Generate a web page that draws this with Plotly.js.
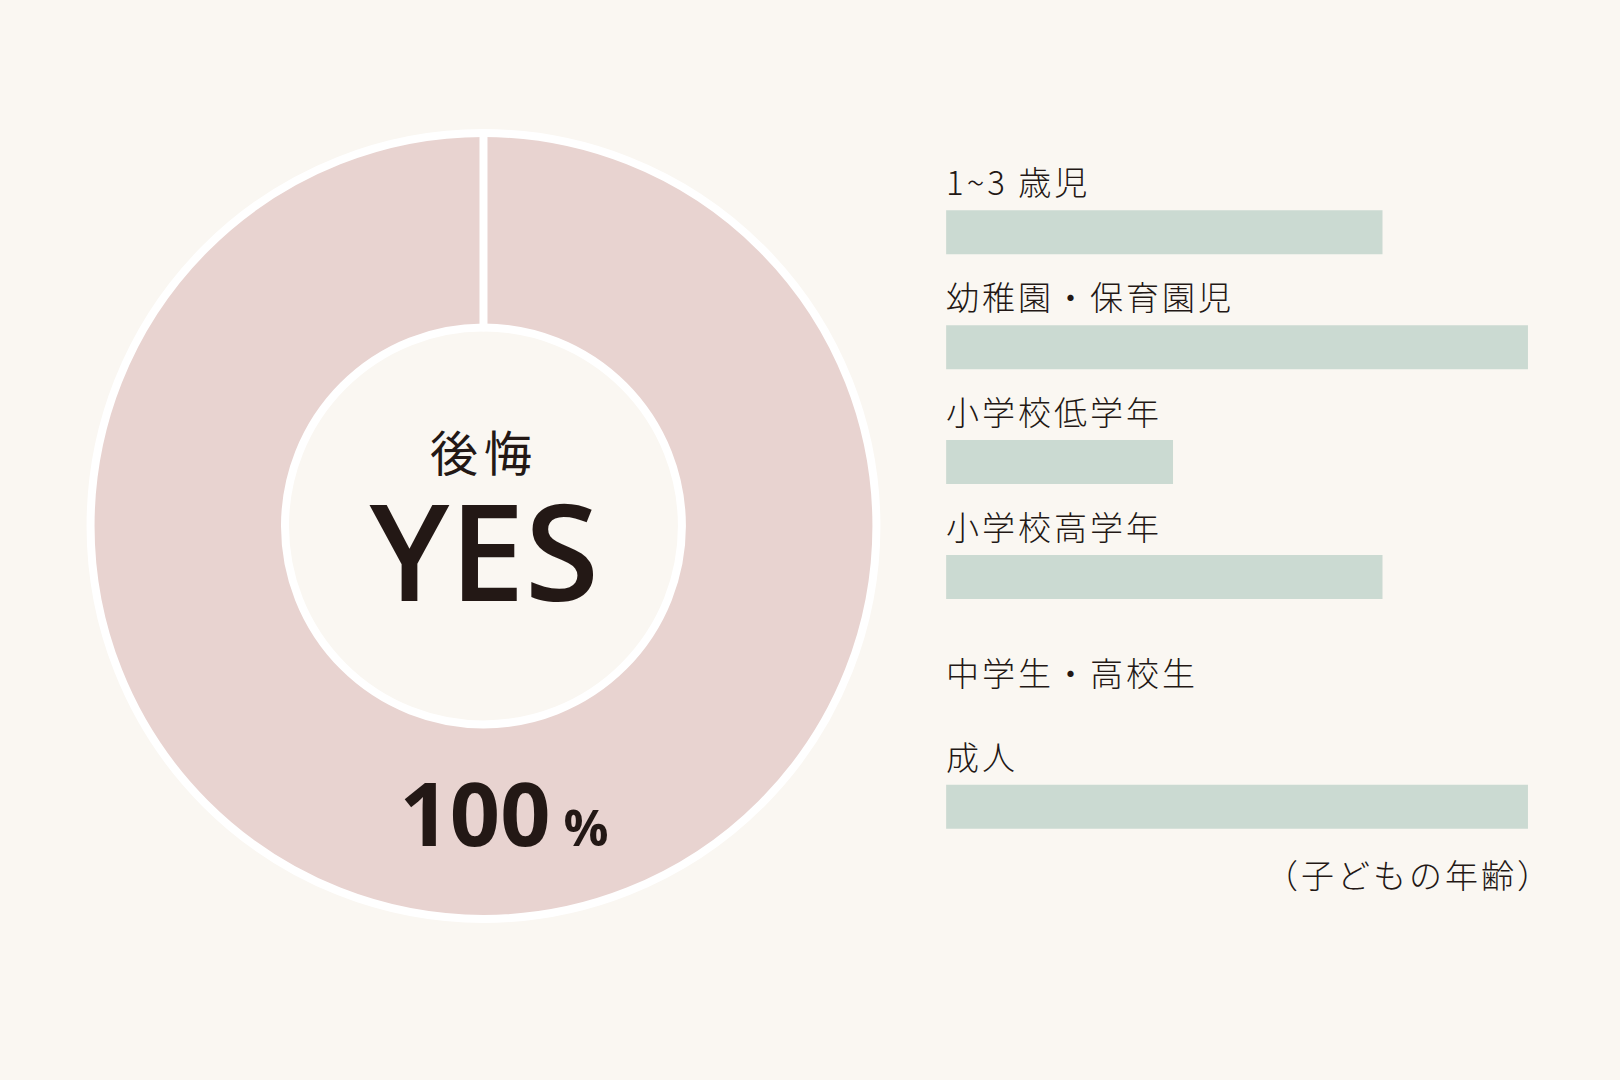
<!DOCTYPE html>
<html>
<head>
<meta charset="utf-8">
<script src="https://cdn.plot.ly/plotly-3.0.1.min.js"></script>
<style>
  html, body { margin: 0; padding: 0; background: #faf7f2; }
  /* the print version spaces its Japanese type a little */
  .annotation-text { letter-spacing: 3px; }
  .annotation[data-index="7"] .annotation-text { letter-spacing: 6px; }
  .annotation[data-index="8"] .annotation-text,
  .annotation[data-index="9"] .annotation-text { letter-spacing: 0; }
</style>
</head>
<body>
<div id="chart" style="width:1620px;height:1080px;"></div>
<script>
// donut: answer to "後悔" (regret)
var answerLabels = ["YES", "NO"];
var answerValues = [100, 0];
var centerTitle = "後悔";

// bars: child's age groups
var ageGroups = ["1~3 歳児", "幼稚園・保育園児", "小学校低学年", "小学校高学年", "中学生・高校生", "成人"];
var ageValues = [75, 100, 39, 75, 0, 100];
var ageNote = "（子どもの年齢）";

var INK = "#231815";
var CJK = "'Noto Sans CJK JP', 'Noto Sans', sans-serif";
var LATIN = "'Open Sans', 'Noto Sans', sans-serif";

var pieTrace = {
    type: "pie",
    labels: answerLabels,
    values: answerValues,
    sort: false,
    direction: "clockwise",
    rotation: 0,
    hole: 0.505,
    domain: {x: [0.0559, 0.5410], y: [0.1491, 0.8769]},
    marker: {
        colors: ["#e8d3d0", "#e8d3d0"],
        line: {color: "#ffffff", width: 8}
    },
    textinfo: "none",
    hoverinfo: "none",
    showlegend: false
};

var barTrace = {
    type: "bar",
    orientation: "h",
    x: ageValues,
    y: ageGroups,
    width: 0.383,
    marker: {color: "#cbdad2"},
    hoverinfo: "none",
    showlegend: false
};

var annotations = ageGroups.map(function(g, i) {
    return {
        x: 0, y: g, xref: "x", yref: "y",
        text: g,
        xanchor: "left", yanchor: "middle",
        xshift: -2,
        yshift: ageValues[i] ? 51 : 20,
        showarrow: false,
        font: {family: CJK, size: 33, color: INK, weight: 300}
    };
});

annotations.push({
    x: 100, y: 0.1907, xref: "x", yref: "paper",
    text: ageNote,
    xanchor: "right", yanchor: "middle",
    xshift: 27,
    showarrow: false,
    font: {family: CJK, size: 33, color: INK, weight: 300}
});

annotations.push({
    x: 0.2985, y: 0.5837, xref: "paper", yref: "paper",
    text: centerTitle,
    xanchor: "center", yanchor: "middle",
    showarrow: false,
    font: {family: CJK, size: 48, color: INK}
});

annotations.push({
    x: 0.2985, y: 0.4917, xref: "paper", yref: "paper",
    text: answerLabels[0],
    xanchor: "center", yanchor: "middle",
    showarrow: false,
    font: {family: LATIN, size: 135, color: INK, weight: 600}
});

// share of YES, sitting in the lower part of the ring
annotations.push({
    x: 0.3111, y: 0.2481, xref: "paper", yref: "paper",
    text: "<b>" + answerValues[0] + "</b><span style='font-size:50px'>\u00a0%</span>",
    xanchor: "center", yanchor: "middle",
    showarrow: false,
    font: {family: LATIN, size: 88, color: INK, weight: 700}
});

var layout = {
    width: 1620,
    height: 1080,
    margin: {l: 0, r: 0, t: 0, b: 0},
    paper_bgcolor: "#faf7f2",
    plot_bgcolor: "rgba(0,0,0,0)",
    showlegend: false,
    xaxis: {domain: [0.5840, 0.9432], range: [0, 100], visible: false, fixedrange: true},
    yaxis: {domain: [0.1998, 0.8381], type: "category", range: [5.5, -0.5], visible: false, fixedrange: true},
    annotations: annotations
};

Plotly.newPlot("chart", [pieTrace, barTrace], layout, {displayModeBar: false, staticPlot: true});
</script>
</body>
</html>
